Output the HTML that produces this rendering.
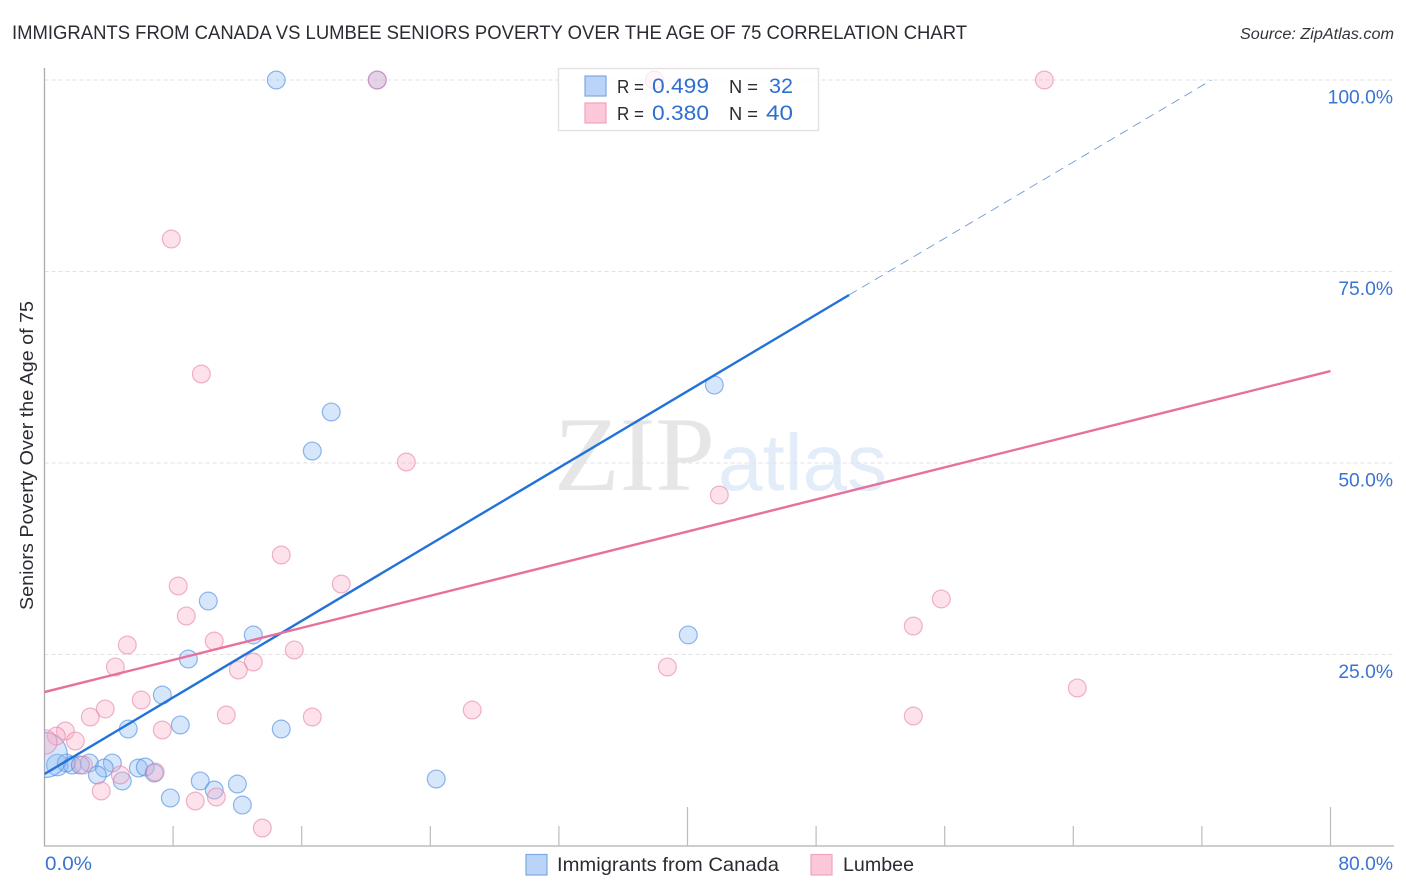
<!DOCTYPE html>
<html lang="en">
<head>
<meta charset="utf-8">
<title>Immigrants from Canada vs Lumbee Seniors Poverty Correlation Chart</title>
<style>
html,body{margin:0;padding:0;background:#fff;}
body{width:1406px;height:892px;overflow:hidden;}
svg{display:block;font-family:"Liberation Sans",sans-serif;}
</style>
</head>
<body>
<svg id="chart" xmlns="http://www.w3.org/2000/svg" width="1406" height="892" viewBox="0 0 1406 892">
  <defs>
    <clipPath id="plot-clip"><rect x="44.5" y="60" width="1350" height="786"/></clipPath>
  </defs>
  <rect x="0" y="0" width="1406" height="892" fill="#ffffff"/>
  <text x="12" y="39" font-size="19.5" fill="#2b2b33" textLength="955" lengthAdjust="spacingAndGlyphs">IMMIGRANTS FROM CANADA VS LUMBEE SENIORS POVERTY OVER THE AGE OF 75 CORRELATION CHART</text>
  <text x="1240" y="39" font-size="15.5" font-style="italic" fill="#33333b" textLength="154" lengthAdjust="spacingAndGlyphs">Source: ZipAtlas.com</text>
  <text transform="translate(33,610) rotate(-90)" font-size="18.5" fill="#2b2b33" textLength="309" lengthAdjust="spacingAndGlyphs">Seniors Poverty Over the Age of 75</text>
  <g>
    <text x="554" y="490" font-family="'Liberation Serif',serif" font-size="106" fill="#e6e6e6" textLength="161" lengthAdjust="spacingAndGlyphs">ZIP</text>
    <text x="718" y="490" font-size="80" fill="#e3edfa" textLength="169" lengthAdjust="spacingAndGlyphs">atlas</text>
  </g>
  <g id="grid"></g>
  <g id="axes"></g>
  <g id="points" clip-path="url(#plot-clip)"></g>
  <g id="trends" clip-path="url(#plot-clip)"></g>

  <g>
    <rect x="558.5" y="68.5" width="260" height="62" fill="#ffffff" fill-opacity="0.72" stroke="#e2e2e2" stroke-width="1.3"/>
    <rect x="585" y="76" width="21" height="20" fill="#b9d4f8" stroke="#7fa8de" stroke-width="1.2"/>
    <rect x="585" y="103" width="21" height="20" fill="#fcc7d9" stroke="#f0a5bd" stroke-width="1.2"/>
    <g font-size="20" fill="#2b2b33">
      <text x="617" y="93" font-size="18.5" textLength="27" lengthAdjust="spacingAndGlyphs">R =</text>
      <text x="729" y="93" font-size="18.5" textLength="29" lengthAdjust="spacingAndGlyphs">N =</text>
      <text x="617" y="120" font-size="18.5" textLength="27" lengthAdjust="spacingAndGlyphs">R =</text>
      <text x="729" y="120" font-size="18.5" textLength="29" lengthAdjust="spacingAndGlyphs">N =</text>
    </g>
    <g font-size="21" fill="#2f6fd0">
      <text x="652" y="93" textLength="57" lengthAdjust="spacingAndGlyphs">0.499</text>
      <text x="769" y="93" textLength="24" lengthAdjust="spacingAndGlyphs">32</text>
      <text x="652" y="120" textLength="57" lengthAdjust="spacingAndGlyphs">0.380</text>
      <text x="766" y="120" textLength="27" lengthAdjust="spacingAndGlyphs">40</text>
    </g>
  </g>

  <g>
    <rect x="526" y="854.5" width="21" height="20.5" fill="#b9d4f8" stroke="#7fa8de" stroke-width="1.2"/>
    <text x="557" y="871" font-size="19.5" fill="#2b2b33" textLength="222" lengthAdjust="spacingAndGlyphs">Immigrants from Canada</text>
    <rect x="811" y="854.5" width="21" height="20.5" fill="#fcc7d9" stroke="#f0a5bd" stroke-width="1.2"/>
    <text x="843" y="871" font-size="19.5" fill="#2b2b33" textLength="71" lengthAdjust="spacingAndGlyphs">Lumbee</text>
  </g>
</svg>
<script>
// Chart data (percent values)
const canadaX = [14.40,20.68,17.82,16.64,41.65,10.17,12.97,40.03,8.93,7.31,8.43,5.19,14.71,24.35,4.20,2.77,0.78,1.71,1.34,3.70,3.27,4.82,5.82,6.25,6.81,7.81,9.67,10.54,11.98,12.29,0,2.21];
const canadaY = [100,100,56.66,51.57,60.18,31.98,27.55,27.55,24.41,19.71,15.80,15.27,15.27,8.75,10.84,10.84,10.57,10.57,10.84,10.18,9.27,8.49,10.18,10.31,9.53,6.27,8.49,7.31,8.09,5.35,11.88,10.57];
const canadaWeight = [1,1,1,1,1,1,1,1,1,1,1,1,1,1,1,1,1.45,1,1,1,1,1,1,1,1,1,1,1,1,1,6.4,1];
const lumbeeX = [20.68,37.92,62.18,7.87,9.74,22.49,41.96,14.71,18.44,8.30,8.80,55.77,54.03,10.54,5.13,15.52,12.97,12.04,4.39,38.73,64.23,6.00,3.76,26.59,2.83,11.29,16.64,54.03,7.31,1.28,0.72,1.90,0,2.40,6.87,4.70,3.51,9.36,10.67,13.53];
const lumbeeY = [100,100,100,79.24,61.62,50.13,45.82,37.99,34.20,33.94,30.03,32.25,28.72,26.76,26.24,25.59,24.02,22.98,23.37,23.37,20.63,19.06,17.89,17.75,16.84,17.10,16.84,16.97,15.14,15.01,14.36,13.71,13.58,10.57,9.66,9.27,7.18,5.87,6.40,2.35];
const lumbeeWeight = [1,1,1,1,1,1,1,1,1,1,1,1,1,1,1,1,1,1,1,1,1,1,1,1,1,1,1,1,1,1,1,1,1.9,1,1,1,1,1,1,1];
const canadaTrendX = [0,50.05];
const canadaTrendY = [9.4,71.93];
const canadaTrendExtX = [50.05,72.6];
const canadaTrendExtY = [71.93,100];
const lumbeeTrendX = [0,80];
const lumbeeTrendY = [20.1,62.0];
const yTicks = [100,75,50,25];
const yTickLabels = ["100.0%","75.0%","50.0%","25.0%"];
const xTicks = [8,16,24,32,40,48,56,64,72,80];
const xMajorTicks = [40,80];
const xEndLabels = ["0.0%","80.0%"];

const NS = "http://www.w3.org/2000/svg";
function xScale(v){ return 44.5 + v * 16.075; }
function yScale(v){ return 846 - v * 7.66; }
function make(tag, attrs, parent){
  const el = document.createElementNS(NS, tag);
  for (const k in attrs) el.setAttribute(k, attrs[k]);
  parent.appendChild(el);
  return el;
}
const grid = document.getElementById('grid');
const axes = document.getElementById('axes');
const points = document.getElementById('points');
const trends = document.getElementById('trends');

yTicks.forEach(function(t, i){
  const line = make('line', {x1:44.5, x2:1394, y1:yScale(t), y2:yScale(t), stroke:'#e0e0e5', 'stroke-width':1, 'stroke-dasharray':'4 3'}, grid);
  
  
  const label = make('text', {x:1393, y:yScale(t) + 23.5, 'font-size':19.3, fill:'#3a74d2', 'text-anchor':'end'}, axes);
  label.textContent = yTickLabels[i];
  
  
});

const yAxis = make('line', {x1:44.5, x2:44.5, y1:68, y2:846, stroke:'#ababab', 'stroke-width':1.3}, axes);


const xAxis = make('line', {x1:44, x2:1394, y1:846, y2:846, stroke:'#b0b0b0', 'stroke-width':1.3}, axes);



xTicks.forEach(function(t){
  const major = xMajorTicks.indexOf(t) >= 0;
  const tick = make('line', {x1:xScale(t), x2:xScale(t), y1:major ? 807 : 826, y2:846, stroke:'#bcbcbc', 'stroke-width':1.2}, axes);
  
  
});

const xLabelLeft = make('text', {x:45, y:870, 'font-size':19.3, fill:'#3a74d2', textLength:47, lengthAdjust:'spacingAndGlyphs'}, axes);
xLabelLeft.textContent = xEndLabels[0];


const xLabelRight = make('text', {x:1393, y:870, 'font-size':19.3, fill:'#3a74d2', 'text-anchor':'end'}, axes);
xLabelRight.textContent = xEndLabels[1];



canadaX.forEach(function(v, i){
  const c = make('circle', {cx:xScale(v) + 0.3, cy:yScale(canadaY[i]), r:8.9 * Math.sqrt(canadaWeight[i]), fill:'#8ab8f2', 'fill-opacity':0.34, stroke:'#4f8be0', 'stroke-opacity':0.62, 'stroke-width':1.2}, points);
  
  
});
lumbeeX.forEach(function(v, i){
  const c = make('circle', {cx:xScale(v) + 0.3, cy:yScale(lumbeeY[i]), r:8.9 * Math.sqrt(lumbeeWeight[i]), fill:'#f9b0c8', 'fill-opacity':0.36, stroke:'#e57fa0', 'stroke-opacity':0.58, 'stroke-width':1.2}, points);
  
  
});

const canadaLine = make('line', {x1:xScale(canadaTrendX[0]), y1:yScale(canadaTrendY[0]), x2:xScale(canadaTrendX[1]), y2:yScale(canadaTrendY[1]), stroke:'#2272d9', 'stroke-width':2.4}, trends);


const canadaExt = make('line', {x1:xScale(canadaTrendExtX[0]), y1:yScale(canadaTrendExtY[0]), x2:xScale(canadaTrendExtX[1]), y2:yScale(canadaTrendExtY[1]), stroke:'#6f9ad6', 'stroke-width':0.9, 'stroke-dasharray':'9 6'}, trends);


const lumbeeLine = make('line', {x1:xScale(lumbeeTrendX[0]), y1:yScale(lumbeeTrendY[0]), x2:xScale(lumbeeTrendX[1]), y2:yScale(lumbeeTrendY[1]), stroke:'#e8709c', 'stroke-width':2.4}, trends);


</script>
</body>
</html>
